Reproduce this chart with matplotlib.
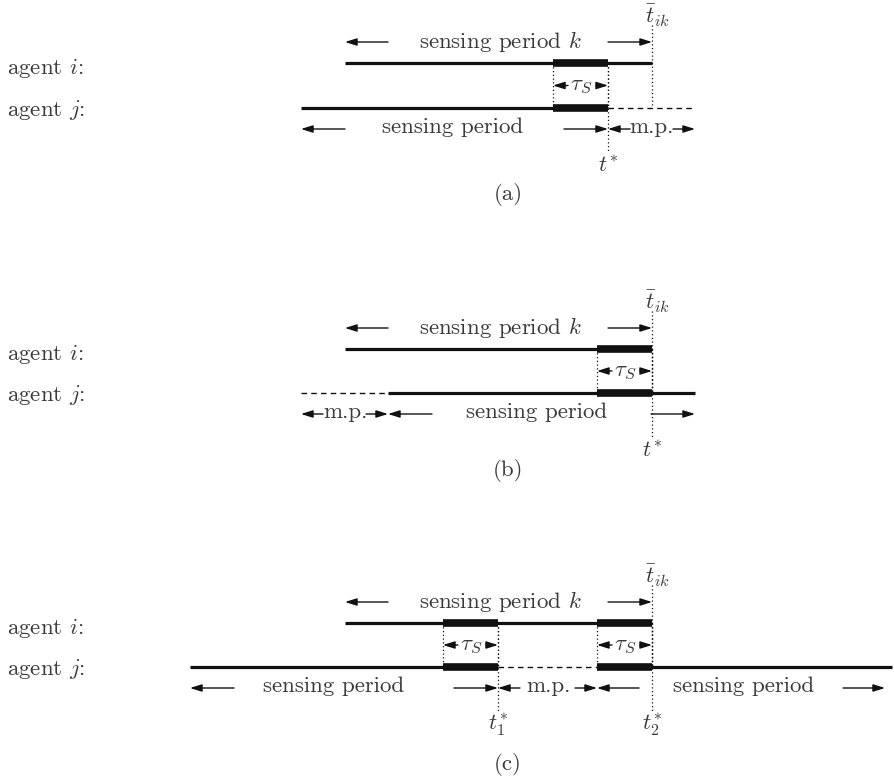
import matplotlib
matplotlib.use("Agg")
import matplotlib.pyplot as plt

plt.rcParams['mathtext.fontset'] = 'cm'
plt.rcParams['font.family'] = ['cmr10', 'DejaVu Serif']
plt.rcParams['axes.unicode_minus'] = False

# each panel: rows of agent i and agent j (pixel rows of the drawing)
row_i = [63, 349, 623]
row_j = [108, 393, 667]
captions = ['(a)', '(b)', '(c)']
caption_y = [195, 470, 765]

# timeline of agent i: start of sensing period k and its end t_ik
agent_i_start = [345, 345, 345]
t_ik = [652, 652, 652]
# sensing intervals tau_S (shared by both agents)
tau_blocks = [[(553, 608)], [(597, 652)], [(443, 498), (597, 652)]]
# agent j: sensing periods (solid) and missing periods (dashed)
j_solid = [[(301, 608)], [(388, 695)], [(190, 498), (597, 892)]]
j_dashed = [[(608, 695)], [(301, 388)], [(498, 597)]]
# instants t*
t_star = [[608], [652], [498, 652]]
t_star_labels = [[r'$t^{\!*}$'], [r'$t^{\!*}$'], [r'$t_1^{\!*}$', r'$t_2^{\!*}$']]
# labelled spans under agent j: (start, end, text, text centre, arrow length)
j_spans = [
    [(301, 608, 'sensing period', 453, 44), (608, 695, 'm.p.', 651, 22)],
    [(301, 388, 'm.p.', 345, 22), (388, 695, 'sensing period', 537, 44)],
    [(190, 498, 'sensing period', 334, 44), (498, 597, 'm.p.', 548, 22),
     (597, 885, 'sensing period', 744, 42)],
]
k_text_x = [500, 500, 500]

ink = '#111111'
txt = '#3a3a3a'
fs = 16.5


def arrow(ax, x_from, x_to, y):
    ax.annotate('', xy=(x_to, y), xytext=(x_from, y),
                arrowprops=dict(arrowstyle='-|>,head_length=0.7,head_width=0.22',
                                color=ink, lw=1.0, shrinkA=0, shrinkB=0,
                                mutation_scale=10))


fig = plt.figure(figsize=(8.94, 7.81), dpi=100)
ax = fig.add_axes([0, 0, 1, 1])
ax.set_xlim(0, 894)
ax.set_ylim(781, 0)
ax.axis('off')

for p in range(3):
    yi, yj = row_i[p], row_j[p]

    # agent labels
    ax.text(7, yi + 5, 'agent $i$:', fontsize=fs, color=txt, va='center', ha='left')
    ax.text(7, yj + 2, 'agent $j$:', fontsize=fs, color=txt, va='center', ha='left')

    # agent i line and sensing period k label
    ax.plot([agent_i_start[p], t_ik[p]], [yi, yi], color=ink, lw=2.3, solid_capstyle='butt')
    ax.text(k_text_x[p], yi - 21, 'sensing period $k$', fontsize=fs, color=txt,
            ha='center', va='center')
    arrow(ax, agent_i_start[p] + 43, agent_i_start[p], yi - 21)
    arrow(ax, t_ik[p] - 44, t_ik[p], yi - 21)
    ax.plot([t_ik[p], t_ik[p]], [yi - 38, yj], color=ink, lw=0.9, ls=(0, (1, 2)))
    ax.text(t_ik[p] + 5, yi - 47, r'$\bar{t}_{ik}$', fontsize=fs, color=txt,
            ha='center', va='center')

    # agent j line
    for a, b in j_solid[p]:
        ax.plot([a, b], [yj, yj], color=ink, lw=2.3, solid_capstyle='butt')
    for a, b in j_dashed[p]:
        ax.plot([a, b], [yj, yj], color=ink, lw=1.0, ls=(0, (4, 3)))

    # tau_S blocks
    for a, b in tau_blocks[p]:
        for y in (yi, yj):
            ax.plot([a, b], [y, y], color=ink, lw=5.5, solid_capstyle='butt')
        for x in (a, b):
            ax.plot([x, x], [yi, yj], color=ink, lw=0.9, ls=(0, (1, 2)))
        ym = (yi + yj) / 2
        ax.text((a + b) / 2 + 1, ym + 1, r'$\tau_S$', fontsize=fs, color=txt,
                ha='center', va='center')
        arrow(ax, a + 15, a, ym)
        arrow(ax, b - 12, b, ym)

    # t* markers
    for x, lab in zip(t_star[p], t_star_labels[p]):
        ax.plot([x, x], [yi, yj + 45], color=ink, lw=0.9, ls=(0, (1, 2)))
        ax.text(x, yj + 58, lab, fontsize=fs, color=txt, ha='center', va='center')

    # spans under agent j
    yl = yj + 21
    for a, b, lab, cx, L in j_spans[p]:
        ax.text(cx, yl - 2, lab, fontsize=fs, color=txt, ha='center', va='center')
        arrow(ax, a + L, a, yl)
        arrow(ax, b - L, b, yl)

    ax.text(508, caption_y[p], captions[p], fontsize=fs, color=txt,
            ha='center', va='center')

fig.savefig('out.png', dpi=100)
